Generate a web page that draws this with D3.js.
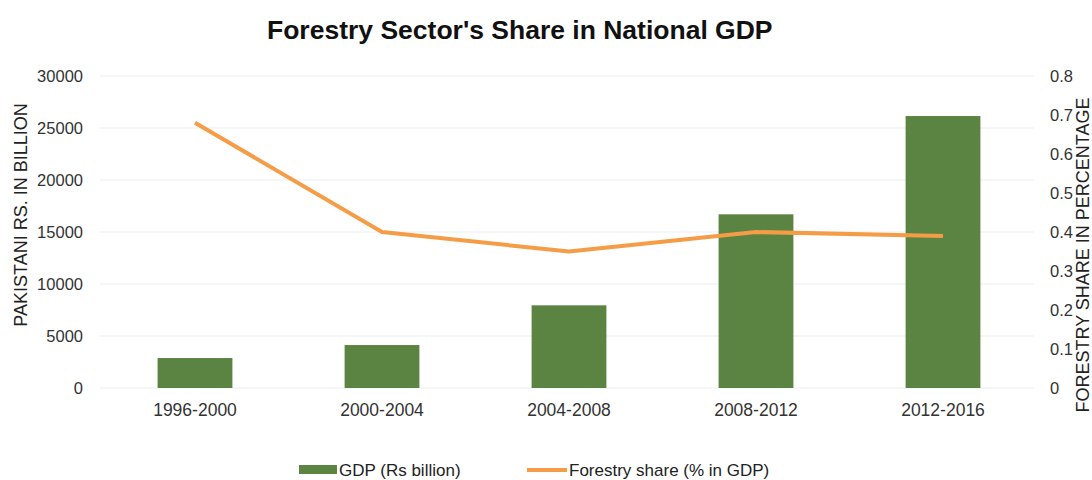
<!DOCTYPE html>
<html>
<head>
<meta charset="utf-8">
<script src="https://cdn.jsdelivr.net/npm/d3@7"></script>
<style>
  body { margin: 0; background: #fff; }
  text { font-family: "Liberation Sans", Arial, sans-serif; fill: #333; }
</style>
</head>
<body>
<script>
const width = 1092;
const height = 480;

const periods = ['1996-2000', '2000-2004', '2004-2008', '2008-2012', '2012-2016'];
const gdp = [2880, 4130, 7950, 16700, 26150];
const forestryShare = [0.68, 0.40, 0.35, 0.40, 0.39];
const leftTicks = [0, 5000, 10000, 15000, 20000, 25000, 30000];
const rightTicks = [0, 0.1, 0.2, 0.3, 0.4, 0.5, 0.6, 0.7, 0.8];

const svg = d3.select('body')
  .append('svg')
  .attr('width', width)
  .attr('height', height);

const x = d3.scaleBand()
  .domain(periods)
  .range([101.5, 1036.5])
  .paddingInner(0.6)
  .paddingOuter(0.3);

const yLeft = d3.scaleLinear()
  .domain([0, 30000])
  .range([388, 76]);

const yRight = d3.scaleLinear()
  .domain([0, 0.8])
  .range([388, 76]);

// title
svg.append('text')
  .text("Forestry Sector's Share in National GDP")
  .attr('x', 267)
  .attr('y', 39)
  .style('font-size', '26.5px')
  .style('font-weight', 'bold')
  .style('fill', '#111');

// grid lines
svg.append('g')
  .selectAll('line')
  .data(leftTicks)
  .enter()
  .append('line')
  .attr('x1', 100)
  .attr('x2', 1034)
  .attr('y1', d => yLeft(d))
  .attr('y2', d => yLeft(d))
  .attr('stroke', '#e9edf1')
  .attr('stroke-width', 1);

// left axis
const leftAxis = svg.append('g')
  .attr('transform', 'translate(85,0)')
  .call(d3.axisLeft(yLeft).tickValues(leftTicks).tickSize(0).tickPadding(2).tickFormat(d3.format('d')));
leftAxis.select('.domain').remove();
leftAxis.selectAll('text').style('font-size', '16.5px').style('fill', '#333');

// right axis
const rightAxis = svg.append('g')
  .attr('transform', 'translate(1048,0)')
  .call(d3.axisRight(yRight).tickValues(rightTicks).tickSize(0).tickPadding(2).tickFormat(d => d === 0 ? '0' : d3.format('.1f')(d)));
rightAxis.select('.domain').remove();
rightAxis.selectAll('text').style('font-size', '16.5px').style('fill', '#333');

// x axis labels
const xAxis = svg.append('g')
  .attr('transform', 'translate(0,388)')
  .call(d3.axisBottom(x).tickSize(0).tickPadding(16));
xAxis.select('.domain').remove();
xAxis.selectAll('text').style('font-size', '17.5px').style('fill', '#333');

// axis titles
svg.append('text')
  .text('PAKISTANI RS. IN BILLION')
  .attr('transform', 'translate(27,215) rotate(-90)')
  .attr('text-anchor', 'middle')
  .style('font-size', '18px')
  .style('fill', '#222');

svg.append('text')
  .text('FORESTRY SHARE IN PERCENTAGE')
  .attr('transform', 'translate(1089,255) rotate(-90)')
  .attr('text-anchor', 'middle')
  .style('font-size', '18px')
  .style('fill', '#222');

// bars
svg.selectAll('rect.bar')
  .data(gdp)
  .enter()
  .append('rect')
  .attr('class', 'bar')
  .attr('x', (d, i) => x(periods[i]))
  .attr('width', x.bandwidth())
  .attr('y', d => yLeft(d))
  .attr('height', d => yLeft(0) - yLeft(d))
  .attr('fill', '#5b8442');

// line
const line = d3.line()
  .x((d, i) => x(periods[i]) + x.bandwidth() / 2)
  .y(d => yRight(d));

svg.append('path')
  .datum(forestryShare)
  .attr('d', line)
  .attr('fill', 'none')
  .attr('stroke', '#f59c47')
  .attr('stroke-width', 4)
  .attr('stroke-linejoin', 'round');

// legend
const legend = svg.append('g');
legend.append('rect')
  .attr('x', 299)
  .attr('y', 465)
  .attr('width', 38)
  .attr('height', 9)
  .attr('fill', '#5b8442');
legend.append('text')
  .text('GDP (Rs billion)')
  .attr('x', 339)
  .attr('y', 476)
  .style('font-size', '17px')
  .style('fill', '#222');
legend.append('line')
  .attr('x1', 527)
  .attr('x2', 567)
  .attr('y1', 470)
  .attr('y2', 470)
  .attr('stroke', '#f59c47')
  .attr('stroke-width', 4);
legend.append('text')
  .text('Forestry share (% in GDP)')
  .attr('x', 569)
  .attr('y', 476)
  .style('font-size', '17px')
  .style('fill', '#222');
</script>
</body>
</html>
